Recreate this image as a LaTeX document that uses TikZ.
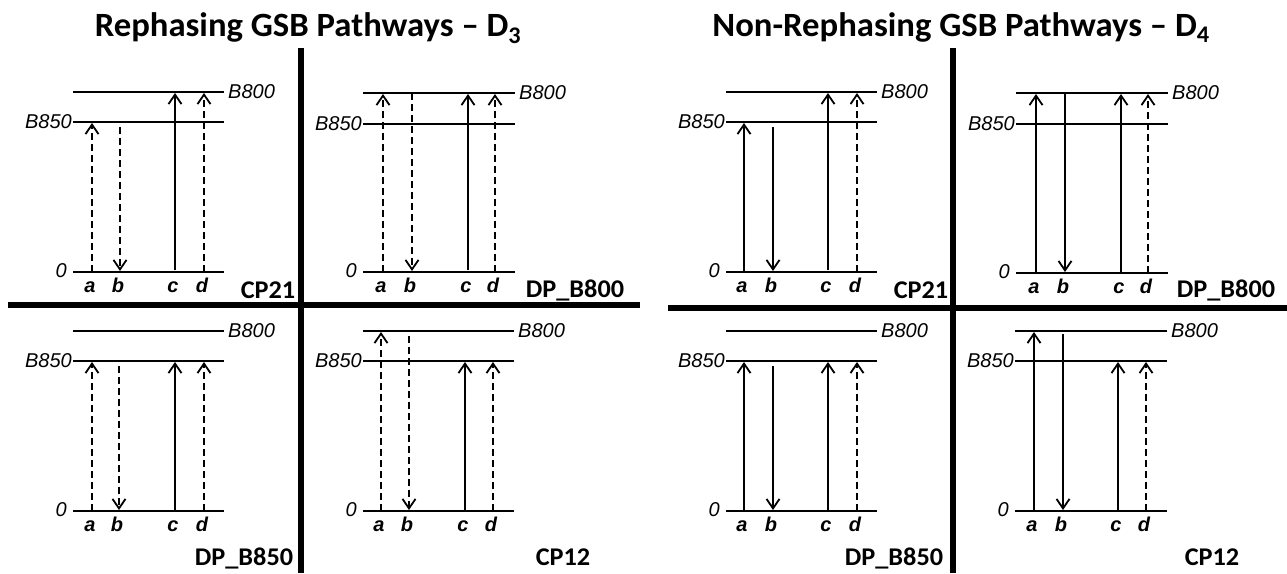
\documentclass[tikz,border=0pt]{standalone}
\usepackage{fontspec}
\usetikzlibrary{arrows.meta}
\newfontfamily\armfont{Liberation Sans}
\newfontfamily\calfont{Carlito}
% horizontally widened text
\newcommand\wider[2][1.12]{\scalebox{#1}[1]{#2}}

\tikzset{
  level/.style={line width=2.3pt},
  divider/.style={line width=6pt},
  tr/.style={line width=1.8pt, -{Straight Barb[length=9.5pt,width=13pt]}, shorten >=1pt},
  dtr/.style={tr, dash pattern=on 7pt off 4pt},
  lvlname/.style={font=\armfont\itshape\fontsize{20}{20}\selectfont, inner sep=0pt},
  armlabel/.style={font=\armfont\bfseries\itshape\fontsize{20}{20}\selectfont, inner sep=0pt, anchor=base},
  pname/.style={font=\calfont\bfseries\fontsize{25.5}{25.5}\selectfont, inner sep=0pt, anchor=base},
  title/.style={font=\calfont\bfseries\fontsize{34}{34}\selectfont, inner sep=0pt, anchor=base},
}

% energy levels of one panel: name, left, right, y(B800), y(B850), y(0)
\newcommand\levels[6]{%
  \coordinate (#1-l8) at (#2,#4); \coordinate (#1-r8) at (#3,#4);
  \coordinate (#1-l5) at (#2,#5); \coordinate (#1-r5) at (#3,#5);
  \coordinate (#1-l0) at (#2,#6); \coordinate (#1-r0) at (#3,#6);
  \draw[level] (#1-l8) -- (#1-r8);
  \draw[level] (#1-l5) -- (#1-r5);
  \draw[level] (#1-l0) -- (#1-r0);
  \node[lvlname, anchor=west] (#1-n8) at ([xshift=4pt]#1-r8) {B800};
  \node[lvlname, anchor=east] (#1-n5) at ([xshift=-1pt]#1-l5) {B850};
  \node[lvlname, anchor=east] (#1-n0) at ([xshift=-6pt,yshift=1.5pt]#1-l0) {0};
}
% interaction columns a..d of one panel
\newcommand\arms[5]{%
  \foreach \k/\x in {a/#2,b/#3,c/#4,d/#5}{
    \coordinate (#1-\k) at (\x,0);
    \node[armlabel] (#1-t\k) at ([xshift=-2pt,yshift=-20pt]#1-\k |- #1-l0) {\k};
  }%
}

\begin{document}
\begin{tikzpicture}[x=1pt,y=-1pt]
\fill[white] (0,0) rectangle (1287,573);
\useasboundingbox (0,0) rectangle (1287,573);

% titles
\node[title] (t1) at (308,36) {\wider[1.02]{Rephasing GSB Pathways – D\textsubscript{3}}};
\node[title] (t2) at (961,36) {\wider[1.02]{Non-Rephasing GSB Pathways – D\textsubscript{4}}};

% dividers
\coordinate (v1t) at (300.5,48); \coordinate (v1b) at (300.5,573);
\coordinate (v2t) at (953,48);   \coordinate (v2b) at (953,573);
\coordinate (h1l) at (8,305);    \coordinate (h1r) at (640,305);
\coordinate (h2l) at (668,307.5);\coordinate (h2r) at (1287,307.5);
\draw[divider] (v1t) -- (v1b);
\draw[divider] (v2t) -- (v2b);
\draw[divider] (h1l) -- (h1r);
\draw[divider] (h2l) -- (h2r);

% ---------- rephasing ----------
\levels{P1}{73}{224}{92}{122}{272}
\arms{P1}{92}{120}{175}{204}
\draw[dtr] (P1-a |- P1-l0) -- (P1-a |- P1-l5);
\draw[dtr, shorten <=5pt] (P1-b |- P1-l5) -- (P1-b |- P1-l0);
\draw[tr, shorten <=2pt] (P1-c |- P1-l0) -- (P1-c |- P1-l8);
\draw[dtr] (P1-d |- P1-l0) -- (P1-d |- P1-l8);
\node[pname] (P1-name) at (268,298) {\wider[1.03]{CP21}};

\levels{P2}{363}{515}{93}{124}{272}
\arms{P2}{383}{412}{468}{495}
\draw[dtr] (P2-a |- P2-l0) -- (P2-a |- P2-l8);
\draw[dtr] (P2-b |- P2-l8) -- (P2-b |- P2-l0);
\draw[tr, shorten <=2pt] (P2-c |- P2-l0) -- (P2-c |- P2-l8);
\draw[dtr] (P2-d |- P2-l0) -- (P2-d |- P2-l8);
\node[pname] (P2-name) at (575,297) {\wider[1.03]{DP\_B800}};

\levels{P3}{73}{224}{331}{361}{511}
\arms{P3}{92}{119}{175}{204}
\draw[dtr] (P3-a |- P3-l0) -- (P3-a |- P3-l5);
\draw[dtr, shorten <=5pt] (P3-b |- P3-l5) -- (P3-b |- P3-l0);
\draw[tr] (P3-c |- P3-l0) -- (P3-c |- P3-l5);
\draw[dtr] (P3-d |- P3-l0) -- (P3-d |- P3-l5);
\node[pname] (P3-name) at (244,565) {\wider[1.03]{DP\_B850}};

\levels{P4}{363}{514}{331}{361}{511}
\arms{P4}{381}{409}{465}{493}
\draw[dtr] (P4-a |- P4-l0) -- (P4-a |- P4-l8);
\draw[dtr, shorten <=5pt] (P4-b |- P4-l8) -- (P4-b |- P4-l0);
\draw[tr] (P4-c |- P4-l0) -- (P4-c |- P4-l5);
\draw[dtr] (P4-d |- P4-l0) -- (P4-d |- P4-l5);
\node[pname] (P4-name) at (563,565) {\wider[1.03]{CP12}};

% ---------- non-rephasing ----------
\levels{P5}{726}{877}{92}{122}{272}
\arms{P5}{744}{773}{828}{857}
\draw[tr] (P5-a |- P5-l0) -- (P5-a |- P5-l5);
\draw[tr, shorten <=5pt] (P5-b |- P5-l5) -- (P5-b |- P5-l0);
\draw[tr, shorten <=2pt] (P5-c |- P5-l0) -- (P5-c |- P5-l8);
\draw[dtr] (P5-d |- P5-l0) -- (P5-d |- P5-l8);
\node[pname] (P5-name) at (921,298) {\wider[1.03]{CP21}};

\levels{P6}{1016}{1168}{93}{124}{273}
\arms{P6}{1036}{1065}{1121}{1148}
\draw[tr] (P6-a |- P6-l0) -- (P6-a |- P6-l8);
\draw[tr] (P6-b |- P6-l8) -- (P6-b |- P6-l0);
\draw[tr] (P6-c |- P6-l0) -- (P6-c |- P6-l8);
\draw[dtr] (P6-d |- P6-l0) -- (P6-d |- P6-l8);
\node[pname] (P6-name) at (1226,297) {\wider[1.03]{DP\_B800}};

\levels{P7}{726}{877}{331}{361}{511}
\arms{P7}{744}{773}{828}{857}
\draw[tr] (P7-a |- P7-l0) -- (P7-a |- P7-l5);
\draw[tr, shorten <=5pt] (P7-b |- P7-l5) -- (P7-b |- P7-l0);
\draw[tr] (P7-c |- P7-l0) -- (P7-c |- P7-l5);
\draw[dtr] (P7-d |- P7-l0) -- (P7-d |- P7-l5);
\node[pname] (P7-name) at (894,565) {\wider[1.03]{DP\_B850}};

\levels{P8}{1015}{1167}{331}{361}{511}
\arms{P8}{1034}{1063}{1118}{1146}
\draw[tr] (P8-a |- P8-l0) -- (P8-a |- P8-l8);
\draw[tr, shorten <=3pt] (P8-b |- P8-l8) -- (P8-b |- P8-l0);
\draw[tr] (P8-c |- P8-l0) -- (P8-c |- P8-l5);
\draw[dtr] (P8-d |- P8-l0) -- (P8-d |- P8-l5);
\node[pname] (P8-name) at (1212,565) {\wider[1.03]{CP12}};
\end{tikzpicture}
\end{document}
